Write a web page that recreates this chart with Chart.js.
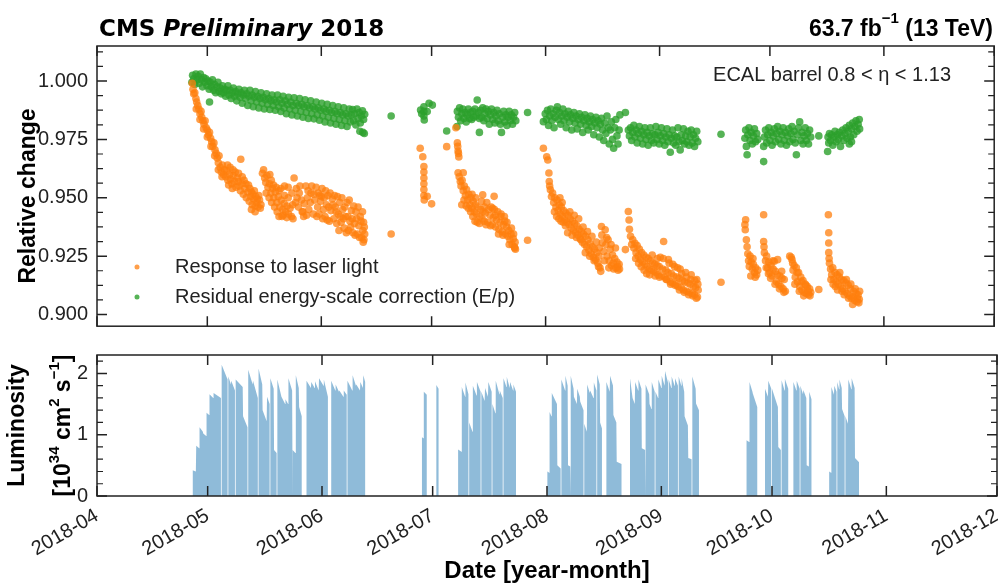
<!DOCTYPE html>
<html>
<head>
<meta charset="utf-8">
<script src="https://cdn.jsdelivr.net/npm/chart.js@4.4.1/dist/chart.umd.min.js"></script>
<style>
  body { margin: 0; background: #fff; }
  #wrap { position: relative; width: 998px; height: 585px; }
  canvas { position: absolute; left: 0; }
  #top { top: 0; }
  #bottom { top: 330px; }
</style>
</head>
<body>
<div id="wrap">
  <canvas id="top" width="998" height="330"></canvas>
  <canvas id="bottom" width="998" height="255"></canvas>
</div>
<script>
// x values are days since 2018-04-01
const monthDays = [0, 30, 61, 91, 122, 153, 183, 214, 244];
const monthLabels = ['2018-04', '2018-05', '2018-06', '2018-07', '2018-08', '2018-09', '2018-10', '2018-11', '2018-12'];
const relTicks = [0.900, 0.925, 0.950, 0.975, 1.000];
const lumiTicks = [0, 1, 2];

// [day, relative response]
const laserPoints = [
  [25.9,0.9990],[26.1,0.9965],[26.3,0.9945],[26.6,0.9950],[26.9,0.9925],[27.1,0.9910],[27.4,0.9895],[27.7,0.9880],[28.0,0.9860],[28.3,0.9870],
  [28.5,0.9845],[28.8,0.9830],[29.1,0.9815],[29.4,0.9830],[29.7,0.9800],[30.0,0.9790],[30.3,0.9770],[30.6,0.9780],[30.9,0.9755],[31.2,0.9740],
  [31.5,0.9720],[31.8,0.9735],[32.1,0.9705],[32.4,0.9690],[32.7,0.9670],[33.0,0.9650],[33.2,0.9680],[33.5,0.9630],[33.8,0.9610],[34.1,0.9640],
  [34.4,0.9600],[34.7,0.9620],[35.0,0.9590],[35.3,0.9615],[35.6,0.9575],[36.0,0.9600],[36.3,0.9580],[36.7,0.9560],[37.0,0.9595],[37.4,0.9570],
  [37.8,0.9545],[38.2,0.9585],[38.6,0.9550],[39.0,0.9530],[39.1,0.9665],[39.4,0.9560],[39.8,0.9515],[40.2,0.9540],[40.6,0.9500],[41.0,0.9525],
  [41.4,0.9485],[41.8,0.9505],[42.2,0.9470],[42.6,0.9495],[43.0,0.9465],[43.4,0.9480],[43.8,0.9460],[44.2,0.9490],[44.6,0.9470],
  [45.0,0.9605],[45.3,0.9620],[45.6,0.9585],[45.9,0.9565],[46.2,0.9595],[46.5,0.9545],[46.9,0.9560],[47.3,0.9520],[47.7,0.9540],[48.1,0.9500],
  [48.5,0.9525],[48.9,0.9480],[49.3,0.9505],[49.7,0.9460],[50.1,0.9490],[50.5,0.9450],[50.9,0.9475],[51.3,0.9440],[51.7,0.9465],[52.1,0.9430],
  [52.5,0.9455],[52.9,0.9420],[53.6,0.9585],
  [54.0,0.9480],[54.4,0.9500],[54.8,0.9460],[55.2,0.9550],[55.6,0.9490],[56.0,0.9440],[56.4,0.9475],[56.8,0.9550],[57.2,0.9500],[57.6,0.9450],
  [58.0,0.9480],[58.4,0.9550],[58.8,0.9430],[59.2,0.9490],[59.6,0.9545],[60.0,0.9460],[60.4,0.9430],[60.8,0.9485],[61.2,0.9540],[61.6,0.9450],
  [62.0,0.9420],[62.4,0.9470],[62.8,0.9510],[63.2,0.9400],[63.6,0.9445],[64.0,0.9495],[64.4,0.9410],[64.8,0.9460],[65.2,0.9390],[65.6,0.9430],
  [66.0,0.9480],[66.4,0.9395],[66.8,0.9450],[67.2,0.9370],[67.6,0.9420],[68.0,0.9480],[68.4,0.9360],[68.8,0.9400],[69.2,0.9445],[69.6,0.9350],
  [70.0,0.9390],[70.4,0.9440],[70.8,0.9345],[71.2,0.9380],[71.6,0.9420],[72.0,0.9330],[72.3,0.9360],[72.6,0.9320],[72.8,0.9345],[80.0,0.9345],
  [27.0,0.9880],[28.0,0.9835],[29.0,0.9795],[30.0,0.9760],[31.0,0.9720],[32.0,0.9680],[33.0,0.9620],[34.0,0.9590],
  [35.5,0.9640],[36.2,0.9630],[37.0,0.9620],[37.6,0.9610],[38.4,0.9570],[35.8,0.9555],[36.8,0.9540],
  [38.5,0.9605],[39.5,0.9590],[40.0,0.9575],[40.5,0.9560],[41.2,0.9555],[41.6,0.9540],[42.0,0.9525],[42.4,0.9515],[42.8,0.9530],[43.2,0.9505],
  [43.6,0.9495],[44.0,0.9510],[44.4,0.9455],[43.0,0.9440],[42.0,0.9450],
  [46.0,0.9520],[46.8,0.9500],[47.5,0.9480],[48.3,0.9460],[49.0,0.9440],[49.5,0.9420],[50.3,0.9420],[47.0,0.9600],[47.4,0.9575],[48.0,0.9555],
  [48.7,0.9545],[49.5,0.9530],
  [50.0,0.9540],[51.0,0.9550],[52.0,0.9545],[53.0,0.9520],[54.2,0.9540],[55.0,0.9520],[55.8,0.9440],[56.2,0.9420],[57.0,0.9425],[57.4,0.9530],
  [58.2,0.9520],[59.0,0.9515],[59.8,0.9420],[52.0,0.9500],[53.2,0.9470],[51.0,0.9510],[50.6,0.9425],[51.6,0.9415],[53.3,0.9410],
  [60.2,0.9520],[61.0,0.9505],[61.8,0.9500],[62.2,0.9530],[62.6,0.9405],[61.4,0.9410],[60.6,0.9510],
  [63.0,0.9460],[63.4,0.9520],[64.2,0.9470],[64.6,0.9510],[65.0,0.9440],[65.4,0.9505],[65.8,0.9360],[66.2,0.9420],[66.6,0.9500],[67.0,0.9410],
  [67.4,0.9460],[67.8,0.9350],[68.2,0.9420],[68.6,0.9490],[69.0,0.9375],[69.4,0.9410],[69.8,0.9465],[70.2,0.9340],[70.6,0.9410],[71.0,0.9460],
  [71.4,0.9330],[71.8,0.9400],[72.2,0.9440],[72.5,0.9395],[72.7,0.9375],[72.4,0.9310],
  [87.9,0.9712],[88.6,0.9676],[88.9,0.9634],[88.9,0.9610],[88.9,0.9585],[88.9,0.9560],[88.9,0.9535],[88.9,0.9510],[89.0,0.9491],[89.8,0.9506],
  [91.0,0.9474],[95.1,0.9719],
  [97.6,0.9800],[98.0,0.9735],[98.1,0.9720],[98.2,0.9700],[98.3,0.9690],[98.4,0.9675],[98.2,0.9607],[99.6,0.9607],[98.5,0.9590],[98.8,0.9570],
  [99.0,0.9550],[99.3,0.9575],[99.6,0.9530],[99.9,0.9550],[100.2,0.9510],[100.5,0.9535],[100.8,0.9490],[101.1,0.9515],[101.4,0.9470],[101.7,0.9500],
  [102.0,0.9455],[102.3,0.9485],[102.6,0.9440],[102.9,0.9470],[103.2,0.9430],[103.5,0.9460],[104.1,0.9420],[104.4,0.9450],[104.7,0.9410],[104.9,0.9513],
  [105.0,0.9440],[105.3,0.9400],[105.6,0.9435],[106.0,0.9480],[106.3,0.9395],[106.9,0.9425],[107.2,0.9460],[107.5,0.9385],[107.8,0.9415],[108.0,0.9506],
  [108.1,0.9450],[108.4,0.9375],[108.7,0.9405],[109.0,0.9440],[109.3,0.9365],[109.6,0.9395],[109.9,0.9430],[110.2,0.9355],[110.5,0.9385],[110.8,0.9420],
  [111.1,0.9345],[111.4,0.9375],[111.7,0.9335],[112.0,0.9360],[112.3,0.9320],[112.6,0.9345],[112.9,0.9300],[113.2,0.9325],[113.5,0.9290],[113.7,0.9310],
  [113.8,0.9280],[117.1,0.9318],
  [99.2,0.9470],[99.8,0.9490],[100.4,0.9465],[101.0,0.9455],[101.6,0.9440],[102.2,0.9420],[102.8,0.9400],[103.4,0.9395],[104.0,0.9390],[104.6,0.9485],
  [103.0,0.9500],[102.0,0.9515],[105.4,0.9460],[105.8,0.9385],[106.5,0.9450],[107.0,0.9380],[107.6,0.9455],[108.3,0.9425],[109.2,0.9345],[109.8,0.9420],
  [110.4,0.9340],[110.9,0.9400],[111.5,0.9395],[112.1,0.9300],[112.7,0.9370],[113.3,0.9345],[113.6,0.9285],
  [121.4,0.9712],[122.3,0.9676],[122.6,0.9662],[122.9,0.9606],[123.0,0.9570],[123.1,0.9550],[123.3,0.9534],[123.6,0.9505],[123.9,0.9520],[124.2,0.9480],
  [124.5,0.9500],[124.8,0.9460],[125.1,0.9490],[125.4,0.9445],[125.7,0.9470],[126.0,0.9430],[126.3,0.9460],[126.6,0.9420],[126.9,0.9445],[127.2,0.9405],
  [127.5,0.9435],[127.8,0.9395],[128.1,0.9425],[128.4,0.9385],[128.7,0.9410],[129.0,0.9370],[129.3,0.9400],[129.6,0.9360],[129.9,0.9390],[130.2,0.9350],
  [130.5,0.9380],[130.8,0.9340],[131.1,0.9365],[131.4,0.9325],[131.7,0.9355],[132.0,0.9310],[132.3,0.9345],[132.6,0.9300],[132.9,0.9335],[133.2,0.9290],
  [133.5,0.9320],[133.8,0.9275],[134.1,0.9305],[134.4,0.9260],[134.7,0.9290],[135.0,0.9245],[135.3,0.9280],[135.6,0.9235],[135.9,0.9265],[136.2,0.9220],
  [136.5,0.9250],[136.8,0.9200],[137.0,0.9185],[137.2,0.9377],[137.3,0.9340],[137.4,0.9307],[137.8,0.9270],[138.2,0.9363],[138.4,0.9300],[138.7,0.9250],
  [139.0,0.9320],[139.3,0.9230],[139.6,0.9280],[139.9,0.9210],[140.2,0.9255],[140.5,0.9195],[140.8,0.9240],[141.1,0.9200],[141.4,0.9225],[141.7,0.9190],
  [142.0,0.9215],[143.7,0.9278],
  [124.4,0.9440],[125.0,0.9420],[125.6,0.9410],[126.2,0.9400],[126.8,0.9395],[125.9,0.9500],[126.5,0.9480],[127.4,0.9380],[128.0,0.9350],[128.6,0.9440],
  [129.2,0.9340],[129.8,0.9425],[130.4,0.9330],[131.0,0.9410],[131.6,0.9320],[132.2,0.9375],[132.8,0.9265],[133.4,0.9355],[134.0,0.9250],[134.6,0.9335],
  [135.2,0.9230],[135.8,0.9310],[136.4,0.9205],[136.6,0.9285],[138.0,0.9230],[138.6,0.9330],[139.2,0.9200],[139.8,0.9300],[140.4,0.9220],[141.0,0.9285],
  [141.6,0.9205],[142.1,0.9195],
  [144.5,0.9441],[144.7,0.9405],[144.8,0.9365],[145.1,0.9335],[145.4,0.9300],[145.7,0.9320],[146.0,0.9285],[146.3,0.9305],[146.6,0.9265],[146.9,0.9295],
  [147.2,0.9250],[147.5,0.9280],[147.8,0.9235],[148.1,0.9265],[148.4,0.9225],[148.7,0.9255],[149.0,0.9215],[149.3,0.9245],[149.6,0.9205],[149.9,0.9240],
  [150.2,0.9195],[150.5,0.9230],[150.8,0.9190],[151.1,0.9220],[151.4,0.9185],[151.7,0.9215],[152.0,0.9180],[152.3,0.9210],[152.6,0.9170],[152.9,0.9205],
  [153.2,0.9245],[153.5,0.9165],[153.8,0.9195],[154.1,0.9313],[154.4,0.9160],[154.7,0.9190],[155.0,0.9150],[155.3,0.9180],[155.6,0.9220],[155.9,0.9140],
  [156.2,0.9175],[156.5,0.9135],[156.8,0.9165],[157.1,0.9205],[157.4,0.9130],[157.7,0.9160],[158.0,0.9120],[158.3,0.9155],[158.6,0.9195],[158.9,0.9115],
  [159.2,0.9145],[159.5,0.9105],[159.8,0.9140],[160.1,0.9180],[160.4,0.9100],[160.7,0.9135],[161.0,0.9095],[161.3,0.9130],[161.6,0.9170],[161.9,0.9090],
  [162.2,0.9120],[162.5,0.9085],[162.8,0.9115],[163.1,0.9150],[163.3,0.9075],[163.5,0.9105],[169.7,0.9138],
  [146.5,0.9240],[147.3,0.9220],[148.0,0.9205],[148.8,0.9190],[149.5,0.9175],[150.3,0.9170],[151.0,0.9255],[151.8,0.9165],[152.4,0.9240],[153.0,0.9160],
  [154.0,0.9240],[154.8,0.9150],[155.4,0.9235],[156.0,0.9130],[156.6,0.9215],[157.2,0.9125],[157.9,0.9200],[158.4,0.9105],[159.0,0.9175],[159.7,0.9095],
  [160.3,0.9160],[160.9,0.9085],[161.5,0.9150],[162.0,0.9080],[162.6,0.9145],[163.0,0.9070],[163.4,0.9130],
  [176.2,0.9385],[176.3,0.9363],[176.4,0.9406],[176.6,0.9320],[176.8,0.9290],[177.0,0.9260],[177.2,0.9230],[177.4,0.9206],[177.6,0.9250],[177.9,0.9225],
  [178.2,0.9195],[178.5,0.9215],[178.8,0.9180],[179.1,0.9200],[179.4,0.9170],[179.7,0.9190],
  [181.3,0.9427],[181.3,0.9313],[181.4,0.9290],[181.5,0.9265],[181.8,0.9230],[182.1,0.9250],[182.4,0.9200],[182.7,0.9225],[183.0,0.9180],[183.3,0.9210],
  [183.6,0.9165],[183.9,0.9195],[184.2,0.9228],[184.5,0.9185],[184.8,0.9140],[185.1,0.9235],[185.4,0.9130],[185.7,0.9165],[186.0,0.9120],[186.3,0.9155],
  [186.6,0.9110],[186.9,0.9150],[187.2,0.9100],
  [188.4,0.9250],[188.8,0.9245],[189.0,0.9235],[189.3,0.9190],[189.6,0.9210],[189.9,0.9160],[190.2,0.9200],[190.5,0.9140],[190.8,0.9180],[191.1,0.9120],
  [191.4,0.9160],[191.7,0.9105],[192.0,0.9145],[192.3,0.9095],[192.6,0.9130],[192.9,0.9090],[193.2,0.9120],[193.5,0.9085],[193.8,0.9110],[194.1,0.9095],
  [196.3,0.9107],
  [177.8,0.9165],[178.4,0.9240],[179.0,0.9160],[182.0,0.9200],[182.6,0.9175],[183.2,0.9155],[183.8,0.9230],[184.4,0.9130],[185.0,0.9170],[185.6,0.9110],
  [186.2,0.9185],[186.8,0.9095],[189.2,0.9220],[189.8,0.9130],[190.4,0.9180],[191.0,0.9100],[191.6,0.9140],[192.2,0.9080],[192.8,0.9125],[193.4,0.9100],
  [193.9,0.9080],
  [198.9,0.9427],[199.0,0.9350],[199.0,0.9306],[199.0,0.9265],[199.1,0.9240],[199.2,0.9220],[199.5,0.9195],[199.8,0.9170],[200.1,0.9200],[200.4,0.9150],
  [200.7,0.9180],[201.0,0.9140],[201.3,0.9170],[201.6,0.9130],[201.9,0.9160],[202.2,0.9120],[202.5,0.9150],[202.8,0.9110],[203.1,0.9145],[203.4,0.9100],
  [203.7,0.9135],[204.0,0.9090],[204.3,0.9125],[204.6,0.9080],[204.9,0.9110],[205.2,0.9070],[205.5,0.9043],[205.8,0.9100],[206.1,0.9060],[206.4,0.9090],
  [206.7,0.9055],[207.0,0.9085],[207.3,0.9065],[207.4,0.9100],
  [199.6,0.9150],[200.2,0.9130],[200.8,0.9120],[201.4,0.9105],[202.0,0.9180],[202.6,0.9100],[203.2,0.9085],[203.8,0.9150],[204.4,0.9070],[205.0,0.9130],
  [205.6,0.9075],[206.2,0.9110],[206.8,0.9070],[207.2,0.9050]
];

// [day, E/p residual correction]
const epPoints = [
  [25.8,0.9995],[26.0,1.0025],[26.3,1.0010],[26.6,0.9985],[26.9,1.0030],[27.2,1.0005],[27.5,1.0020],[27.8,0.9990],[28.1,1.0030],[28.4,1.0005],
  [28.7,0.9975],[29.0,1.0015],[29.3,0.9995],[29.6,1.0010],[29.9,0.9980],[30.2,1.0000],[30.5,0.9965],[30.6,0.9910],[30.8,0.9995],[31.1,0.9975],
  [31.4,1.0005],[31.7,0.9960],[32.0,0.9985],[32.3,0.9950],[32.6,0.9975],[32.9,0.9995],[33.2,0.9955],[33.5,0.9970],[33.8,0.9945],[34.1,0.9980],
  [34.4,0.9950],[34.7,0.9965],[35.0,0.9935],[35.3,0.9960],[35.6,0.9980],[35.9,0.9940],[36.2,0.9960],[36.5,0.9925],[36.8,0.9950],[37.1,0.9970],
  [37.4,0.9935],[37.7,0.9955],[38.0,0.9915],[38.3,0.9945],[38.6,0.9965],[38.9,0.9930],[39.2,0.9950],[39.5,0.9905],[39.8,0.9940],[40.1,0.9960],
  [40.4,0.9925],[40.7,0.9945],[41.0,0.9895],[41.3,0.9935],[41.6,0.9960],[41.9,0.9915],[42.2,0.9940],[42.5,0.9890],[42.8,0.9930],[43.1,0.9955],
  [43.4,0.9910],[43.7,0.9935],[44.0,0.9885],[44.3,0.9925],[44.6,0.9950],[44.9,0.9905],[45.2,0.9930],[45.5,0.9880],[45.8,0.9920],[46.1,0.9945],
  [46.4,0.9900],[46.7,0.9925],[47.0,0.9878],[47.3,0.9915],[47.6,0.9940],[47.9,0.9895],[48.2,0.9920],[48.5,0.9875],[48.8,0.9910],[49.1,0.9940],
  [49.4,0.9890],[49.7,0.9920],[50.0,0.9870],[50.3,0.9905],[50.6,0.9935],[50.9,0.9885],[51.2,0.9915],[51.5,0.9860],[51.8,0.9900],[52.1,0.9930],
  [52.4,0.9880],[52.7,0.9910],[53.0,0.9855],[53.3,0.9895],[53.6,0.9928],[53.9,0.9875],[54.2,0.9905],[54.5,0.9850],[54.8,0.9895],[55.1,0.9925],
  [55.4,0.9870],[55.7,0.9900],[56.0,0.9845],[56.3,0.9890],[56.6,0.9920],[56.9,0.9865],[57.2,0.9895],[57.5,0.9840],[57.8,0.9885],[58.1,0.9915],
  [58.4,0.9860],[58.7,0.9890],[59.0,0.9838],[59.3,0.9880],[59.6,0.9910],[59.9,0.9855],[60.2,0.9885],[60.5,0.9832],[60.8,0.9875],[61.1,0.9905],
  [61.4,0.9850],[61.7,0.9880],[62.0,0.9825],[62.3,0.9870],[62.6,0.9900],[62.9,0.9845],[63.2,0.9875],[63.5,0.9820],[63.8,0.9865],[64.1,0.9895],
  [64.4,0.9840],[64.7,0.9870],[65.0,0.9815],[65.3,0.9860],[65.6,0.9890],[65.9,0.9835],[66.2,0.9865],[66.5,0.9810],[66.8,0.9855],[67.1,0.9885],
  [67.4,0.9830],[67.7,0.9860],[68.0,0.9805],[68.3,0.9850],[68.6,0.9880],[68.9,0.9825],[69.2,0.9855],[69.5,0.9878],[69.8,0.9830],[70.1,0.9860],
  [70.4,0.9812],[70.7,0.9880],[71.0,0.9840],[71.3,0.9865],[71.5,0.9785],[71.6,0.9820],[71.9,0.9850],[72.2,0.9872],[72.3,0.9780],[72.5,0.9835],
  [72.7,0.9775],[72.8,0.9858],[80.0,0.9850],
  [88.0,0.9876],[88.3,0.9860],[88.9,0.9890],[88.9,0.9870],[88.9,0.9850],[89.0,0.9833],[89.8,0.9869],[90.3,0.9905],[91.2,0.9897],[95.1,0.9786],
  [97.9,0.9805],[98.0,0.9870],[98.3,0.9845],[98.6,0.9885],[98.9,0.9830],[99.2,0.9860],[99.5,0.9880],[99.8,0.9840],[100.1,0.9865],[100.4,0.9825],
  [100.7,0.9855],[101.0,0.9880],[101.3,0.9840],[101.6,0.9865],[101.9,0.9835],[102.2,0.9870],[102.5,0.9845],[102.8,0.9880],[103.1,0.9850],[103.4,0.9919],
  [103.7,0.9865],[104.0,0.9780],[104.0,0.9840],[104.3,0.9875],[104.6,0.9845],[104.9,0.9885],[105.2,0.9830],[105.5,0.9860],[105.8,0.9880],[106.1,0.9840],
  [106.4,0.9870],[106.7,0.9815],[107.0,0.9855],[107.3,0.9880],[107.6,0.9835],[107.9,0.9865],[108.2,0.9820],[108.5,0.9850],[108.8,0.9875],[109.1,0.9830],
  [109.4,0.9860],[109.7,0.9815],[110.0,0.9780],[110.3,0.9845],[110.6,0.9870],[110.9,0.9825],[111.2,0.9855],[111.5,0.9810],[111.8,0.9845],[112.1,0.9870],
  [112.4,0.9830],[112.7,0.9855],[113.0,0.9815],[113.3,0.9845],[113.6,0.9865],[113.9,0.9830],[117.1,0.9865],
  [121.4,0.9826],[121.9,0.9860],[122.2,0.9835],[122.5,0.9875],[122.8,0.9810],[123.1,0.9850],[123.4,0.9880],[123.7,0.9830],[124.0,0.9860],[124.3,0.9800],
  [124.6,0.9845],[124.9,0.9875],[125.2,0.9890],[125.5,0.9835],[125.8,0.9865],[126.1,0.9815],[126.4,0.9850],[126.7,0.9880],[127.0,0.9830],[127.3,0.9860],
  [127.6,0.9800],[127.9,0.9845],[128.2,0.9870],[128.5,0.9825],[128.8,0.9855],[129.1,0.9790],[129.4,0.9840],[129.7,0.9865],[130.0,0.9820],[130.3,0.9850],
  [130.6,0.9795],[130.9,0.9835],[131.2,0.9860],[131.5,0.9815],[131.8,0.9845],[132.1,0.9780],[132.4,0.9830],[132.7,0.9855],[133.0,0.9810],[133.3,0.9840],
  [133.6,0.9790],[133.9,0.9825],[134.2,0.9850],[134.5,0.9805],[134.8,0.9835],[135.1,0.9770],[135.4,0.9820],[135.7,0.9845],[136.0,0.9800],[136.3,0.9830],
  [136.6,0.9760],[136.9,0.9815],[137.2,0.9840],[137.5,0.9790],[137.8,0.9745],[138.1,0.9820],[138.4,0.9775],[138.7,0.9850],[139.0,0.9800],[139.3,0.9730],
  [139.6,0.9790],[139.9,0.9825],[140.2,0.9750],[140.5,0.9712],[140.8,0.9800],[141.1,0.9835],[141.4,0.9765],[141.7,0.9730],[142.0,0.9790],[142.2,0.9855],
  [143.7,0.9865],
  [144.5,0.9790],[144.8,0.9765],[145.1,0.9800],[145.4,0.9745],[145.7,0.9780],[146.0,0.9810],[146.3,0.9760],[146.6,0.9790],[146.9,0.9735],[147.2,0.9775],
  [147.5,0.9805],[147.8,0.9755],[148.1,0.9785],[148.4,0.9730],[148.7,0.9770],[149.0,0.9800],[149.3,0.9750],[149.6,0.9780],[149.9,0.9725],[150.2,0.9765],
  [150.5,0.9800],[150.8,0.9745],[151.1,0.9775],[151.4,0.9735],[151.7,0.9770],[152.0,0.9805],[152.3,0.9750],[152.6,0.9780],[152.9,0.9730],[153.2,0.9765],
  [153.5,0.9800],[153.8,0.9745],[154.1,0.9775],[154.4,0.9725],[154.7,0.9760],[155.0,0.9795],[155.3,0.9740],[155.6,0.9770],[155.9,0.9695],[156.2,0.9755],
  [156.5,0.9790],[156.8,0.9735],[157.1,0.9765],[157.4,0.9725],[157.7,0.9760],[158.0,0.9800],[158.3,0.9740],[158.6,0.9705],[158.9,0.9770],[159.2,0.9745],
  [159.5,0.9795],[159.8,0.9730],[160.1,0.9765],[160.4,0.9740],[160.7,0.9785],[161.0,0.9725],[161.3,0.9760],[161.6,0.9790],[161.9,0.9735],[162.2,0.9770],
  [162.5,0.9720],[162.8,0.9755],[163.1,0.9785],[163.4,0.9740],[169.7,0.9772],
  [176.2,0.9755],[176.4,0.9790],[176.6,0.9720],[176.8,0.9684],[177.0,0.9770],[177.3,0.9800],[177.6,0.9745],[177.9,0.9780],[178.2,0.9730],[178.5,0.9765],
  [178.8,0.9795],[179.1,0.9740],[179.4,0.9775],[179.7,0.9750],
  [181.3,0.9655],[181.3,0.9720],[181.5,0.9760],[181.8,0.9790],[182.1,0.9735],[182.4,0.9770],[182.7,0.9800],[183.0,0.9745],[183.3,0.9780],[183.6,0.9725],
  [183.9,0.9765],[184.2,0.9795],[184.5,0.9740],[184.8,0.9775],[185.1,0.9805],[185.4,0.9750],[185.7,0.9785],[186.0,0.9730],[186.3,0.9770],[186.6,0.9800],
  [186.9,0.9745],[187.2,0.9780],[187.5,0.9725],[187.8,0.9765],[188.1,0.9795],[188.4,0.9740],[188.7,0.9775],[189.0,0.9805],[189.3,0.9750],[189.6,0.9785],
  [189.9,0.9735],[190.2,0.9684],[190.5,0.9770],[190.8,0.9800],[191.1,0.9825],[191.4,0.9745],[191.7,0.9780],[192.0,0.9730],[192.3,0.9765],[192.6,0.9800],
  [192.9,0.9745],[193.2,0.9775],[193.5,0.9730],[193.8,0.9790],[194.1,0.9760],[196.3,0.9765],
  [198.7,0.9698],[198.8,0.9760],[199.0,0.9735],[199.2,0.9775],[199.5,0.9745],[199.8,0.9770],[200.1,0.9725],[200.4,0.9760],[200.7,0.9785],[201.0,0.9740],
  [201.3,0.9770],[201.6,0.9750],[201.9,0.9780],[202.2,0.9720],[202.5,0.9765],[202.8,0.9790],[203.1,0.9745],[203.4,0.9775],[203.7,0.9800],[204.0,0.9755],
  [204.3,0.9785],[204.6,0.9810],[204.6,0.9730],[204.9,0.9760],[205.2,0.9795],[205.2,0.9740],[205.5,0.9820],[205.8,0.9770],[206.1,0.9805],[206.4,0.9830],
  [206.7,0.9785],[207.0,0.9815],[207.3,0.9835],[207.4,0.9795]
];

// LHC fills: [start day, end day, peak lumi, lumi at end]  (10^34 cm^-2 s^-1)
const lumiFills = [
  [25.9,26.8,0.42,0.40],[26.9,27.7,0.82,0.78],[27.8,28.7,1.12,1.05],[28.8,29.6,1.02,0.98],[29.7,30.4,1.36,1.32],
  [30.5,31.5,1.66,1.60],[31.6,33.6,1.68,1.60],[33.8,35.4,2.14,1.90],[35.6,36.3,1.95,1.82],[36.4,37.4,1.88,1.72],
  [37.6,39.5,1.90,1.78],[39.6,40.8,1.30,1.12],[41.0,42.2,2.06,1.82],[42.3,43.6,1.88,1.60],[43.8,44.8,2.08,1.82],
  [44.9,46.0,1.40,1.22],[46.1,46.8,1.62,1.50],[47.0,47.9,1.92,1.75],[48.0,48.7,0.75,0.70],[48.9,50.0,1.90,1.62],
  [50.1,51.0,1.62,1.50],[51.1,51.8,1.58,1.50],[51.9,52.9,1.92,1.72],[53.1,53.8,0.75,0.70],[53.9,54.7,1.97,1.76],
  [54.8,55.5,1.45,1.30],[56.8,58.0,1.88,1.76],[58.1,59.0,1.86,1.76],[59.1,60.1,1.87,1.72],[60.2,61.4,1.92,1.80],
  [61.5,62.6,1.90,1.62],[63.5,64.6,1.88,1.72],[64.7,65.6,1.82,1.70],[65.7,66.8,1.72,1.62],[66.9,67.7,1.72,1.65],
  [67.9,69.2,1.88,1.72],[69.3,70.2,1.97,1.80],[70.3,71.3,1.82,1.72],[71.4,72.1,1.86,1.76],[72.2,72.7,1.97,1.86],
  [88.1,88.5,0.96,0.94],[88.6,89.4,1.70,1.65],[92.0,92.6,1.81,1.75],
  [97.9,98.8,0.76,0.72],[98.9,99.8,1.78,1.62],[99.9,100.7,1.85,1.66],[100.9,101.8,1.20,1.05],[101.9,102.9,1.80,1.64],
  [103.0,104.0,1.86,1.70],[104.2,105.1,1.70,1.55],[105.2,106.0,1.76,1.62],[106.1,107.0,1.86,1.70],[107.2,108.0,1.50,1.35],
  [108.1,109.1,1.88,1.66],[109.2,110.0,1.72,1.60],[110.2,111.0,1.92,1.78],[111.1,111.9,1.94,1.76],[112.0,112.8,1.86,1.72],
  [112.9,113.6,1.82,1.70],
  [122.1,122.6,0.40,0.38],[122.7,123.2,1.37,1.30],[123.3,124.7,1.68,1.50],[124.8,125.7,0.50,0.45],[125.9,126.9,1.90,1.72],
  [127.0,127.6,1.96,1.80],[127.7,128.3,0.50,0.48],[128.5,129.2,1.96,1.75],[129.3,130.1,1.62,1.50],[130.2,130.9,1.75,1.62],
  [131.0,131.9,1.54,1.40],[132.1,132.8,1.18,1.05],[132.9,133.6,1.82,1.68],[133.7,134.6,1.72,1.60],[134.7,135.4,1.85,1.72],
  [135.6,136.3,1.98,1.82],[136.4,136.9,1.20,1.10],[138.1,139.0,1.86,1.70],[139.1,139.9,1.96,1.80],[140.0,140.8,1.32,1.20],
  [140.9,142.2,0.56,0.52],
  [144.5,145.2,1.92,1.60],[145.3,145.8,1.60,1.50],[145.9,146.7,1.86,1.72],[146.8,147.6,1.90,1.75],[147.7,148.6,0.78,0.75],
  [148.8,149.7,1.82,1.66],[149.8,150.3,1.50,1.42],[150.4,151.2,1.86,1.70],[151.4,152.1,1.70,1.60],[152.2,153.0,1.90,1.76],
  [153.1,153.9,1.96,1.80],[154.0,154.8,2.04,1.85],[155.0,155.7,1.90,1.76],[155.8,156.6,1.95,1.80],[156.7,157.5,1.92,1.80],
  [157.7,158.4,1.95,1.80],[158.5,159.2,1.92,1.70],[159.3,160.2,1.30,1.15],[160.3,161.2,0.62,0.60],[161.4,162.3,1.95,1.75],
  [162.4,163.2,1.51,1.40],
  [176.1,176.8,0.91,0.88],[176.9,177.7,1.86,1.70],[177.8,179.0,1.67,1.45],[181.1,181.9,1.75,1.62],[182.0,182.8,1.88,1.75],
  [183.0,183.7,1.75,1.62],[183.8,184.6,1.62,1.45],[184.7,185.4,0.80,0.75],[185.6,186.4,1.89,1.72],[186.5,187.4,1.91,1.75],
  [188.8,189.6,1.86,1.72],[189.7,190.5,1.88,1.75],[190.7,191.4,1.80,1.66],[191.5,192.3,1.73,1.60],[192.4,193.0,0.50,0.48],
  [193.1,193.7,1.70,1.58],
  [198.5,199.0,0.40,0.38],[199.1,199.8,1.78,1.65],[199.9,200.5,1.80,1.70],[200.7,201.2,1.86,1.74],[201.3,201.9,1.90,1.76],
  [202.0,202.7,1.42,1.30],[202.9,203.6,1.30,1.18],[203.7,204.5,1.90,1.74],[204.6,205.4,1.92,1.76],[205.5,206.6,0.62,0.55]
];

const FONT = "'Liberation Sans', Arial, sans-serif";
const INK = '#222';
const ORANGE = 'rgba(255,127,14,0.75)';
const GREEN = 'rgba(44,160,44,0.8)';

// frame with inward ticks on all four sides, like the matplotlib original
function drawFrame(chart, xMajors, yMajors, yMinorStep, yPerMajor) {
  const {ctx, chartArea: a} = chart;
  const xs = chart.scales.x, ys = chart.scales.y;
  ctx.save();
  ctx.strokeStyle = INK;
  ctx.lineWidth = 1.5;
  ctx.strokeRect(a.left, a.top, a.right - a.left, a.bottom - a.top);
  ctx.beginPath();
  xMajors.forEach(v => {
    const px = xs.getPixelForValue(v);
    ctx.moveTo(px, a.bottom); ctx.lineTo(px, a.bottom - 10);
    ctx.moveTo(px, a.top); ctx.lineTo(px, a.top + 10);
  });
  yMajors.forEach(v => {
    const py = ys.getPixelForValue(v);
    ctx.moveTo(a.left, py); ctx.lineTo(a.left + 10, py);
    ctx.moveTo(a.right, py); ctx.lineTo(a.right - 10, py);
  });
  ctx.stroke();
  ctx.lineWidth = 1.2;
  ctx.beginPath();
  const base = yMajors[0];
  const k0 = Math.ceil((ys.min - base) / yMinorStep - 1e-6);
  const k1 = Math.floor((ys.max - base) / yMinorStep + 1e-6);
  for (let k = k0; k <= k1; k++) {
    if (((k % yPerMajor) + yPerMajor) % yPerMajor === 0) continue;
    const py = ys.getPixelForValue(base + k * yMinorStep);
    ctx.moveTo(a.left, py); ctx.lineTo(a.left + 6, py);
    ctx.moveTo(a.right, py); ctx.lineTo(a.right - 6, py);
  }
  ctx.stroke();
  ctx.restore();
}

// text made of pieces [text, size, rise, style, family]
function richWidth(ctx, parts) {
  let w = 0;
  parts.forEach(p => { ctx.font = `${p[3] || 'bold'} ${p[1]}px ${p[4] || FONT}`; w += ctx.measureText(p[0]).width; });
  return w;
}
function drawRich(ctx, parts, x, y) {
  let cx = x;
  parts.forEach(p => {
    ctx.font = `${p[3] || 'bold'} ${p[1]}px ${p[4] || FONT}`;
    ctx.fillText(p[0], cx, y - p[2]);
    cx += ctx.measureText(p[0]).width;
  });
}

const topDecor = {
  id: 'topDecor',
  afterDraw(chart) {
    drawFrame(chart, monthDays, relTicks, 0.00625, 4);
    const ctx = chart.ctx;
    ctx.save();
    ctx.fillStyle = '#000';
    ctx.textAlign = 'left';
    ctx.textBaseline = 'alphabetic';
    const dv = "'DejaVu Sans', sans-serif";
    drawRich(ctx, [['CMS ', 23, 0, 'bold', dv], ['Preliminary', 23, 0, 'italic bold', dv], [' 2018', 23, 0, 'bold', dv]], 99, 36);
    const lumiParts = [['63.7 fb', 23, 0], ['\u22121', 15, 13], [' (13 TeV)', 23, 0]];
    drawRich(ctx, lumiParts, 993 - richWidth(ctx, lumiParts), 36);

    ctx.fillStyle = INK;
    ctx.font = `20px ${FONT}`;
    ctx.textAlign = 'right';
    ctx.fillText('ECAL barrel 0.8 < \u03b7 < 1.13', 951, 81);

    // legend
    const rows = [[ORANGE, 'Response to laser light', 267], [GREEN, 'Residual energy-scale correction (E/p)', 297]];
    ctx.textAlign = 'left';
    ctx.textBaseline = 'middle';
    rows.forEach(r => {
      ctx.fillStyle = r[0];
      ctx.beginPath(); ctx.arc(137, r[2], 2.5, 0, Math.PI * 2); ctx.fill();
      ctx.fillStyle = INK;
      ctx.fillText(r[1], 175, r[2]);
    });

    // y title
    ctx.save();
    ctx.translate(29, 196);
    ctx.rotate(-Math.PI / 2);
    ctx.textAlign = 'center';
    ctx.fillStyle = '#000';
    ctx.font = `bold 23px ${FONT}`;
    ctx.fillText('Relative change', 0, 0);
    ctx.restore();
    ctx.restore();
  }
};

const bottomDecor = {
  id: 'bottomDecor',
  afterDraw(chart) {
    drawFrame(chart, monthDays, lumiTicks, 0.2, 5);
    const ctx = chart.ctx;
    ctx.save();
    ctx.fillStyle = '#000';
    ctx.textBaseline = 'alphabetic';
    ctx.textAlign = 'left';
    // y title, two lines
    ctx.save();
    ctx.translate(0, 95.5);
    ctx.rotate(-Math.PI / 2);
    const l1 = [['Luminosity', 23, 0]];
    drawRich(ctx, l1, -richWidth(ctx, l1) / 2, 24);
    const l2 = [['[10', 23, 0], ['34', 15, 11], [' cm', 23, 0], ['2', 15, 11], [' s', 23, 0], ['\u22121', 15, 11], [']', 23, 0]];
    drawRich(ctx, l2, -richWidth(ctx, l2) / 2, 70);
    ctx.restore();
    // x title
    const xt = [['Date [year-month]', 24, 0]];
    drawRich(ctx, xt, 547 - richWidth(ctx, xt) / 2, 248);
    ctx.restore();
  }
};

const tickFont = { family: FONT, size: 20 };

new Chart(document.getElementById('top'), {
  type: 'scatter',
  data: {
    datasets: [
      { label: 'Response to laser light', data: laserPoints.map(p => ({x: p[0], y: p[1]})),
        pointBackgroundColor: ORANGE, backgroundColor: ORANGE, pointRadius: 3.8, pointBorderWidth: 0, pointHoverRadius: 3.8 },
      { label: 'Residual energy-scale correction (E/p)', data: epPoints.map(p => ({x: p[0], y: p[1]})),
        pointBackgroundColor: GREEN, backgroundColor: GREEN, pointRadius: 3.8, pointBorderWidth: 0, pointHoverRadius: 3.8 }
    ]
  },
  options: {
    responsive: false,
    animation: false,
    devicePixelRatio: 1,
    events: [],
    layout: { padding: { top: 46, right: 1, bottom: 3, left: 0 } },
    plugins: { legend: { display: false }, tooltip: { enabled: false } },
    scales: {
      x: { type: 'linear', min: 0, max: 244, display: false },
      y: {
        min: 0.895, max: 1.015,
        grid: { display: false, drawTicks: false },
        border: { display: false },
        afterBuildTicks: s => { s.ticks = relTicks.map(v => ({ value: v })); },
        afterFit: s => { s.width = 97; s.paddingTop = 0; s.paddingBottom = 0; },
        ticks: { font: tickFont, color: INK, padding: 9, callback: v => v.toFixed(3) }
      }
    }
  },
  plugins: [topDecor]
});

// back-to-back fills join directly; a real pause in beam drops to zero
const lumiData = [];
lumiFills.forEach((f, i) => {
  const prev = lumiFills[i - 1];
  const next = lumiFills[i + 1];
  if (!prev || f[0] - prev[1] > 0.15) lumiData.push({x: f[0], y: 0});
  lumiData.push({x: f[0], y: f[2]}, {x: f[1], y: f[3]});
  if (!next || next[0] - f[1] > 0.15) lumiData.push({x: f[1], y: 0});
});

new Chart(document.getElementById('bottom'), {
  type: 'line',
  data: {
    datasets: [{
      label: 'Luminosity', data: lumiData, fill: 'origin',
      backgroundColor: 'rgba(31,119,180,0.5)', borderColor: 'rgba(0,0,0,0)', borderWidth: 0,
      pointRadius: 0, tension: 0
    }]
  },
  options: {
    responsive: false,
    animation: false,
    devicePixelRatio: 1,
    events: [],
    layout: { padding: { top: 25, right: 1, bottom: 0, left: 0 } },
    plugins: { legend: { display: false }, tooltip: { enabled: false } },
    scales: {
      x: {
        type: 'linear', min: 0, max: 244,
        grid: { display: false, drawTicks: false },
        border: { display: false },
        afterBuildTicks: s => { s.ticks = monthDays.map(v => ({ value: v })); },
        afterFit: s => { s.height = 89; s.paddingLeft = 0; s.paddingRight = 0; },
        ticks: { autoSkip: false, minRotation: 30, maxRotation: 30, font: tickFont, color: INK, padding: 8,
                 callback: (v, i) => monthLabels[i] }
      },
      y: {
        min: 0, max: 2.3,
        grid: { display: false, drawTicks: false },
        border: { display: false },
        afterBuildTicks: s => { s.ticks = lumiTicks.map(v => ({ value: v })); },
        afterFit: s => { s.width = 97; s.paddingTop = 0; s.paddingBottom = 0; },
        ticks: { font: tickFont, color: INK, padding: 9, callback: v => String(v) }
      }
    }
  },
  plugins: [bottomDecor]
});
</script>
</body>
</html>
